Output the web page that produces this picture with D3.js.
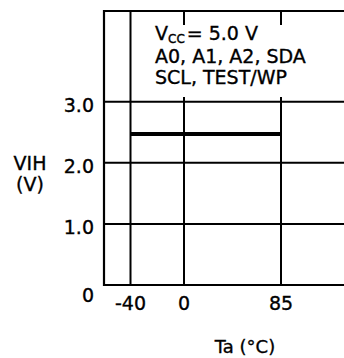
<!DOCTYPE html>
<html>
<head>
<meta charset="utf-8">
<script src="https://cdn.jsdelivr.net/npm/d3@7"></script>
<style>
  html, body { margin: 0; padding: 0; background: #fff; }
  svg { display: block; }
  text { font-family: "DejaVu Sans", sans-serif; fill: #000; stroke: #000; stroke-width: 0.35px; }
</style>
</head>
<body>
<svg id="chart" width="344" height="358"></svg>
<script>
// VIH vs ambient temperature
const tempTicks = [-40, 0, 85];
const tempTickLabels = ["-40", "0", "85"];
const vihTicks = [0, 1.0, 2.0, 3.0];
const vihTickLabels = ["0", "1.0", "2.0", "3.0"];
const seriesTemp = [-40, 85];
const seriesVih = [2.47, 2.47];
const noteLines = ["A0, A1, A2, SDA", "SCL, TEST/WP"];

const svg = d3.select("#chart");
const plot = { left: 104, right: 344, top: 11, bottom: 285 };

// temperature axis is drawn with unequal spacing between ticks
const x = d3.scaleLinear().domain([-40, 0, 85]).range([130.5, 184, 281]);
const y = d3.scaleLinear().domain([0, 3]).range([plot.bottom, 101.7]);

const ink = "#000";

// horizontal gridlines
svg.append("g").selectAll("line")
  .data(vihTicks.filter(v => v > 0))
  .join("line")
  .attr("x1", plot.left).attr("x2", plot.right)
  .attr("y1", d => y(d)).attr("y2", d => y(d))
  .attr("stroke", ink).attr("stroke-width", 2);

// vertical gridlines
svg.append("g").selectAll("line")
  .data(tempTicks)
  .join("line")
  .attr("x1", d => x(d)).attr("x2", d => x(d))
  .attr("y1", plot.top).attr("y2", plot.bottom)
  .attr("stroke", ink).attr("stroke-width", 2);

// white panel behind the condition note
svg.append("rect")
  .attr("x", 138).attr("y", 25)
  .attr("width", plot.right - 138).attr("height", 72)
  .attr("fill", "#fff");

// frame: left, top and bottom axis lines
svg.append("path")
  .attr("d", `M${plot.right},${plot.top}H${plot.left}V${plot.bottom}H${plot.right}`)
  .attr("fill", "none").attr("stroke", ink).attr("stroke-width", 2.2);

// VIH level
svg.append("path")
  .datum(seriesTemp.map((t, i) => [t, seriesVih[i]]))
  .attr("d", d3.line().x(d => x(d[0])).y(d => y(d[1])))
  .attr("fill", "none").attr("stroke", ink).attr("stroke-width", 4);

// y tick labels
svg.append("g").selectAll("text")
  .data(vihTicks)
  .join("text")
  .attr("x", 94)
  .attr("y", d => y(d) + (d === 0 ? 17 : 10))
  .attr("text-anchor", "end")
  .attr("font-size", 19)
  .text((d, i) => vihTickLabels[i]);

// x tick labels
svg.append("g").selectAll("text")
  .data(tempTicks)
  .join("text")
  .attr("x", d => x(d))
  .attr("y", 310)
  .attr("text-anchor", "middle")
  .attr("font-size", 19)
  .text((d, i) => tempTickLabels[i]);

// axis titles
svg.append("text").attr("x", 30).attr("y", 170)
  .attr("text-anchor", "middle").attr("font-size", 19).text("VIH");
svg.append("text").attr("x", 30).attr("y", 191)
  .attr("text-anchor", "middle").attr("font-size", 19).text("(V)");
svg.append("text").attr("x", 245).attr("y", 353)
  .attr("text-anchor", "middle").attr("font-size", 18).text("Ta (°C)");

// condition note
const note = svg.append("text").attr("x", 155).attr("y", 40).attr("font-size", 19);
note.append("tspan").text("V");
note.append("tspan").attr("font-size", 12).attr("dy", 3).text("CC");
note.append("tspan").attr("dy", -3).attr("dx", 2).text("= 5.0 V");
svg.append("g").selectAll("text")
  .data(noteLines)
  .join("text")
  .attr("x", 155)
  .attr("y", (d, i) => 63 + i * 21)
  .attr("font-size", 19)
  .text(d => d);
</script>
</body>
</html>
